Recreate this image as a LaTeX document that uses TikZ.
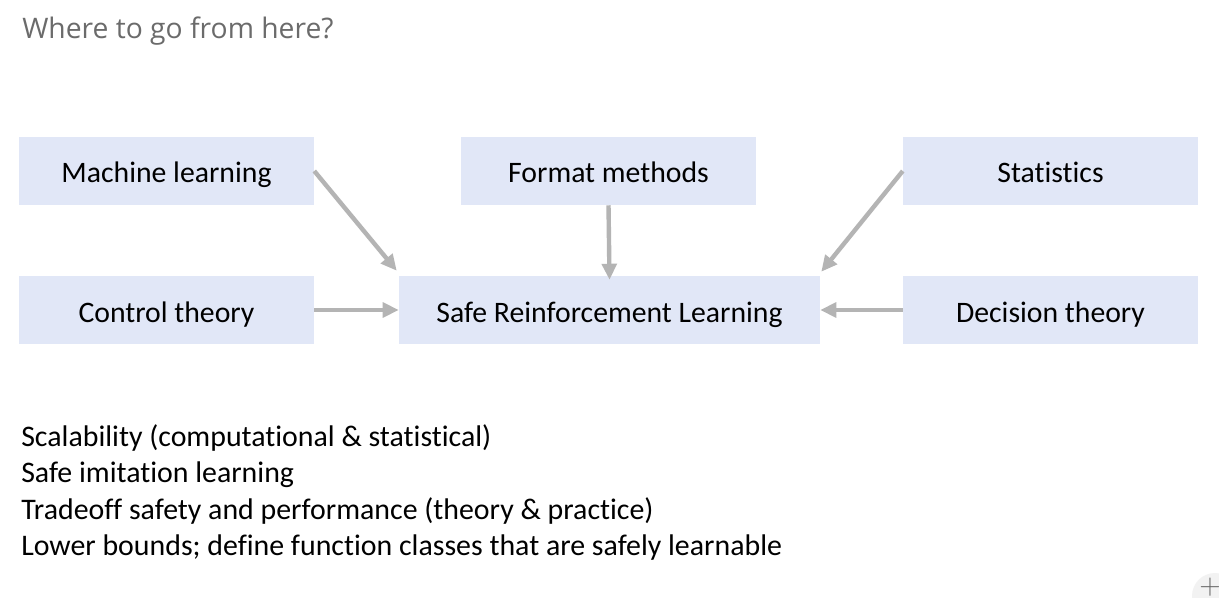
\documentclass[tikz,border=0pt]{standalone}
\usepackage{fontspec}
\setmainfont{Carlito}[Ligatures=NoCommon]
\newfontfamily\titlefont{Open Sans}
\usetikzlibrary{arrows.meta}
\definecolor{boxfill}{HTML}{E1E7F7}
\definecolor{arrowgray}{HTML}{B4B4B4}
\definecolor{titlegray}{HTML}{6B6B6B}
\begin{document}
\begin{tikzpicture}[x=0.75pt,y=-0.75pt,
  topic/.style={fill=boxfill,draw=none,inner sep=0pt,minimum height=51pt,
    font=\fontsize{22.3}{26}\selectfont,text height=20.25pt,text depth=2.25pt},
  flow/.style={draw=arrowgray,line width=3.3pt,
    -{Triangle[length=12pt,width=11pt]}},
  item/.style={anchor=base west,inner sep=0pt,font=\fontsize{22.4}{26}\selectfont}]
\useasboundingbox (0,0) rectangle (1219,598);
\fill[white] (0,0) rectangle (1219,598);

% title
\node[anchor=base west,inner sep=0pt,text=titlegray,
  font=\titlefont\fontsize{21.2}{25}\selectfont] (title) at (22,39) {Where to go from here?};

% topic boxes
\node[topic,minimum width=221.25pt] (ml)   at (166.5,171) {Machine learning};
\node[topic,minimum width=221.25pt] (fm)   at (608.5,171) {Format methods};
\node[topic,minimum width=221.25pt] (st)   at (1050.5,171) {Statistics};
\node[topic,minimum width=221.25pt] (ct)   at (166.5,310) {Control theory};
\node[topic,minimum width=315.75pt] (srl)  at (609.5,310) {Safe Reinforcement Learning};
\node[topic,minimum width=221.25pt] (dt)   at (1050.5,310) {Decision theory};

% arrows into the central box
\draw[flow] (ml.east) -- ([shift={(-2,-5)}]srl.north west);
\draw[flow] (fm.south) -- ([yshift=-3]srl.north);
\draw[flow] (st.west) -- ([shift={(1,-4)}]srl.north east);
\draw[flow] (ct.east) -- (srl.west);
\draw[flow] (dt.west) -- (srl.east);

% open questions
\node[item] (q1) at (21,446) {Scalability (computational \& statistical)};
\node[item] (q2) at (21,482.5) {Safe imitation learning};
\node[item] (q3) at (21,519) {Tradeoff safety and performance (theory \& practice)};
\node[item] (q4) at (21,555) {Lower bounds; define function classes that are safely learnable};

% corner add button
\begin{scope}
  \clip (0,0) rectangle (1219,598);
  \fill[gray!10] (1215,596) circle (23);
  \node[text=gray!80!black,inner sep=0pt,font=\sffamily\fontsize{22}{22}\selectfont] (plus) at (1210,587) {+};
\end{scope}
\end{tikzpicture}
\end{document}
